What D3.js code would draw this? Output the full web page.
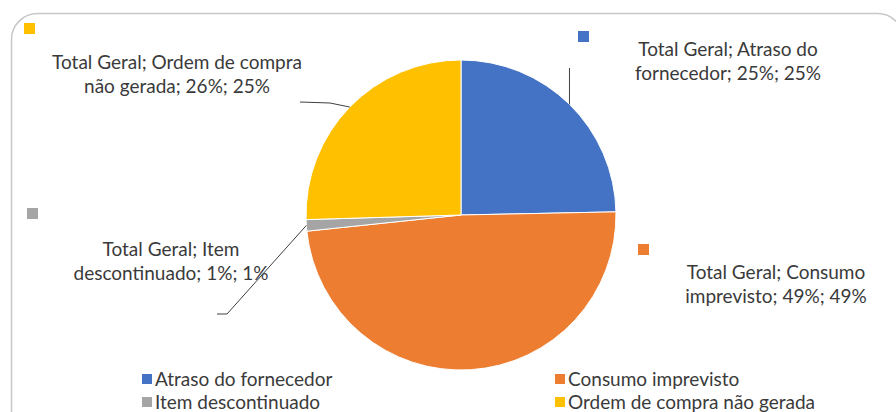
<!DOCTYPE html>
<html lang="pt">
    <head>
        <meta charset="utf-8">
        <title>Total Geral</title>
        <script type="text/javascript" src="https://d3js.org/d3.v7.min.js"></script>
        <style>
            body { margin: 0; background: #fff; }
        </style>
    </head>
    <body>
        <div id="chart"></div>
        <script type="text/javascript">

            var w = 896;
            var h = 412;

            // data
            var seriesName = "Total Geral";
            var categories = ["Atraso do fornecedor", "Consumo imprevisto", "Item descontinuado", "Ordem de compra não gerada"];
            var values = [0.248, 0.489, 0.012, 0.256];
            var colors = ["#4472C4", "#ED7D31", "#A5A5A5", "#FFC000"];

            // label text, wrapped as in the original sheet
            var labelSplit = [
                ["Total Geral; Atraso do", "fornecedor;  25%; 25%"],
                ["Total Geral; Consumo", "imprevisto; 49%; 49%"],
                ["Total Geral; Item", "descontinuado; 1%; 1%"],
                ["Total Geral; Ordem de compra", "não gerada; 26%; 25%"]
            ];

            // label placement (manual, as in the original sheet)
            var labelLayout = [
                { x: 728, y: 49, key: [578, 31], leader: [[null, 68]] },
                { x: 776, y: 272, key: [638, 244], leader: null },
                { x: 171, y: 249, key: [27, 208], leader: [[227, 314], [217, 314]] },
                { x: 177, y: 62, key: [24, 23], leader: [[330, 103], [300, 102]] }
            ];

            var cx = 461, cy = 215, r = 155;

            var svg = d3.select("#chart")
                        .append("svg")
                        .attr("width", w)
                        .attr("height", h);

            // chart area border
            svg.append("rect")
                .attr("x", 11.5)
                .attr("y", 13.5)
                .attr("width", 892)
                .attr("height", 440)
                .attr("rx", 26)
                .attr("fill", "#fff")
                .attr("stroke", "#c8c8c8")
                .attr("stroke-width", 1.5);

            var pie = d3.pie().sort(null).value(function(d) { return d; });
            var arcs = pie(values);
            var arc = d3.arc().innerRadius(0).outerRadius(r);
            var edgeArc = d3.arc().innerRadius(r).outerRadius(r);

            var g = svg.append("g")
                        .attr("transform", "translate(" + cx + "," + cy + ")");

            g.selectAll("path")
                .data(arcs)
                .enter()
                .append("path")
                .attr("d", arc)
                .attr("fill", function(d, i) { return colors[i]; })
                .attr("stroke", "#fff")
                .attr("stroke-width", 1);

            // leader lines
            arcs.forEach(function(d, i) {
                var lay = labelLayout[i];
                if (!lay.leader) return;
                var e = edgeArc.centroid(d);
                var pts = [[cx + e[0], cy + e[1]]];
                lay.leader.forEach(function(p) {
                    pts.push([p[0] === null ? cx + e[0] : p[0], p[1]]);
                });
                svg.append("path")
                    .attr("d", d3.line()(pts))
                    .attr("fill", "none")
                    .attr("stroke", "#404040")
                    .attr("stroke-width", 1);
            });

            // data labels
            labelLayout.forEach(function(lay, i) {
                svg.append("rect")
                    .attr("x", lay.key[0])
                    .attr("y", lay.key[1])
                    .attr("width", 11)
                    .attr("height", 11)
                    .attr("fill", colors[i]);

                var t = svg.append("text")
                    .attr("x", lay.x)
                    .attr("y", lay.y)
                    .attr("text-anchor", "middle")
                    .style("font-family", "Lato, 'Open Sans', sans-serif")
                    .style("font-size", "19px")
                    .style("fill", "#3a3a3a");
                labelSplit[i].forEach(function(s, k) {
                    t.append("tspan")
                        .attr("x", lay.x)
                        .attr("dy", k === 0 ? "0.35em" : 24)
                        .text(s);
                });
            });

            // legend
            var legend = svg.append("g")
                            .attr("transform", "translate(142,379)");
            categories.forEach(function(c, i) {
                var col = i % 2, row = Math.floor(i / 2);
                var item = legend.append("g")
                    .attr("transform", "translate(" + (col * 413) + "," + (row * 23) + ")");
                item.append("rect")
                    .attr("x", 0)
                    .attr("y", -5)
                    .attr("width", 10)
                    .attr("height", 10)
                    .attr("fill", colors[i]);
                item.append("text")
                    .attr("x", 13)
                    .attr("y", 0)
                    .attr("dy", "0.35em")
                    .style("font-family", "Lato, 'Open Sans', sans-serif")
                    .style("font-size", "19px")
                    .style("fill", "#3a3a3a")
                    .text(c);
            });

        </script>
    </body>
</html>
